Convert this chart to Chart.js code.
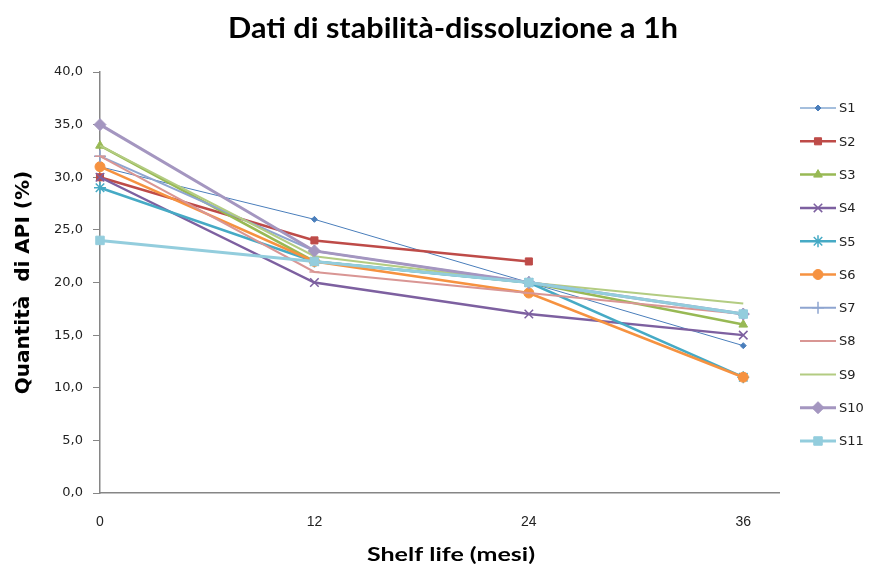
<!DOCTYPE html>
<html lang="it">
<head>
<meta charset="UTF-8">
<title>Dati di stabilità-dissoluzione a 1h</title>
<script src="https://cdn.jsdelivr.net/npm/chart.js"></script>
<style>
  body { margin: 0; background: #fff; }
  canvas { display: block; }
</style>
</head>
<body>
<canvas id="chart" width="869" height="572"></canvas>
<script>
// months on the x axis
const months = [0, 12, 24, 36];
const seriesNames = ['S1', 'S2', 'S3', 'S4', 'S5', 'S6', 'S7', 'S8', 'S9', 'S10', 'S11'];
// % API dissolved at 1h, one array per sample (null = not measured)
const s1  = [31, 26, 20, 14];
const s2  = [30, 24, 22, null];
const s3  = [33, 22, 20, 16];
const s4  = [30, 20, 17, 15];
const s5  = [29, 22, 20, 11];
const s6  = [31, 22, 19, 11];
const s7  = [32, 23, 20, 17];
const s8  = [32, 21, 19, 17];
const s9  = [33, 22.5, 20, 18];
const s10 = [35, 23, 20, 17];
const s11 = [24, 22, 20, 17];
const seriesValues = [s1, s2, s3, s4, s5, s6, s7, s8, s9, s10, s11];
const yTicks = [0, 5, 10, 15, 20, 25, 30, 35, 40];

const chartTitle = 'Dati di stabilità-dissoluzione a 1h';
const xTitle = 'Shelf life (mesi)';

// look of each series (Excel style)
const styles = [
    { color: '#4a7ebb', width: 1,   marker: 'rectRot',  r: 3 },
    { color: '#be4b48', width: 2.5, marker: 'rect',     r: 5 },
    { color: '#98b954', width: 2.5, marker: 'triangle', r: 5 },
    { color: '#7d60a0', width: 2.5, marker: 'crossRot', r: 6 },
    { color: '#46aac5', width: 2.5, marker: 'star',     r: 6 },
    { color: '#f69240', width: 2.5, marker: 'circle',   r: 5 },
    { color: '#8ea5d0', width: 2,   marker: 'cross',    r: 6 },
    { color: '#d99694', width: 2,   marker: 'line',     r: 5 },
    { color: '#b3cc82', width: 2,   marker: 'circle',   r: 0 },
    { color: '#a496c0', width: 3,   marker: 'rectRot',  r: 6 },
    { color: '#93cddd', width: 3,   marker: 'rect',     r: 6 }
];

const datasets = seriesNames.map(function (name, i) {
    const st = styles[i];
    return {
        label: name,
        data: months.map(function (m, j) { return { x: m, y: seriesValues[i][j] }; }),
        borderColor: st.color,
        backgroundColor: st.color,
        borderWidth: st.width,
        pointStyle: st.marker,
        pointRadius: st.r,
        pointBorderWidth: (st.marker === 'crossRot' || st.marker === 'star' || st.marker === 'cross' || st.marker === 'line') ? 1.5 : 1,
        tension: 0,
        spanGaps: false,
        clip: false,
        order: seriesNames.length - 1 - i
    };
});

// text squeezed/stretched to a given width, centred on cx
function fitText(ctx, text, cx, cy, width) {
    const w = ctx.measureText(text).width;
    ctx.save();
    ctx.translate(cx, cy);
    ctx.scale(width / w, 1);
    ctx.fillText(text, 0, 0);
    ctx.restore();
}

// legend + titles drawn by hand so they sit where Excel put them
const sideLegend = {
    id: 'sideLegend',
    afterDraw(chart) {
        const ctx = chart.ctx;
        ctx.save();
        chart.data.datasets.forEach(function (ds, i) {
            const y = 108 + i * 33.3;
            ctx.strokeStyle = ds.borderColor;
            ctx.lineWidth = ds.borderWidth;
            ctx.beginPath();
            ctx.moveTo(800, y);
            ctx.lineTo(836, y);
            ctx.stroke();
            if (ds.pointRadius > 0) {
                ctx.fillStyle = ds.backgroundColor;
                ctx.lineWidth = ds.pointBorderWidth;
                Chart.helpers.drawPoint(ctx, {
                    pointStyle: ds.pointStyle,
                    radius: ds.pointRadius,
                    borderWidth: ds.pointBorderWidth,
                    rotation: 0
                }, 818, y);
            }
            ctx.fillStyle = '#222';
            ctx.font = '13px "DejaVu Sans"';
            ctx.textBaseline = 'middle';
            ctx.textAlign = 'left';
            ctx.fillText(ds.label, 839, y + 1);
        });

        ctx.fillStyle = '#000';
        ctx.textAlign = 'center';
        ctx.textBaseline = 'middle';
        ctx.font = 'bold 28px Lato';
        fitText(ctx, chartTitle, 453, 29, 450);
        ctx.font = 'bold 19px Lato';
        fitText(ctx, xTitle, 451, 555, 168);
        ctx.restore();
    }
};

new Chart(document.getElementById('chart'), {
    type: 'line',
    data: { datasets: datasets },
    plugins: [sideLegend],
    options: {
        responsive: false,
        animation: false,
        layout: { padding: { left: 0, right: 90, top: 72, bottom: 0 } },
        plugins: {
            legend: { display: false },
            tooltip: { enabled: false },
            title: { display: false }
        },
        scales: {
            x: {
                type: 'linear',
                min: 0,
                max: 38,
                afterBuildTicks(scale) {
                    scale.ticks = months.map(function (m) { return { value: m }; });
                },
                afterFit(scale) { scale.height = 79; },
                grid: { display: false, drawTicks: false },
                border: { display: true, color: '#868686', width: 1.5 },
                ticks: {
                    padding: 21,
                    color: '#222',
                    font: { family: '"Liberation Sans Narrow", "Liberation Sans"', size: 14 }
                }
            },
            y: {
                min: 0,
                max: 40,
                afterBuildTicks(scale) {
                    scale.ticks = yTicks.map(function (v) { return { value: v }; });
                },
                afterFit(scale) { scale.width = 100; },
                grid: { drawOnChartArea: false, drawTicks: true, tickLength: 7, color: '#868686' },
                border: { display: true, color: '#868686', width: 1.5 },
                ticks: {
                    padding: 10,
                    color: '#222',
                    font: { family: '"DejaVu Sans"', size: 13 },
                    callback: function (v) { return v.toFixed(1).replace('.', ','); }
                },
                title: {
                    display: true,
                    text: 'Quantità  di API (%)',
                    color: '#000',
                    font: { family: '"DejaVu Sans"', size: 20, weight: 'bold' },
                    padding: { top: 12, bottom: 0 }
                }
            }
        }
    }
});
</script>
</body>
</html>
